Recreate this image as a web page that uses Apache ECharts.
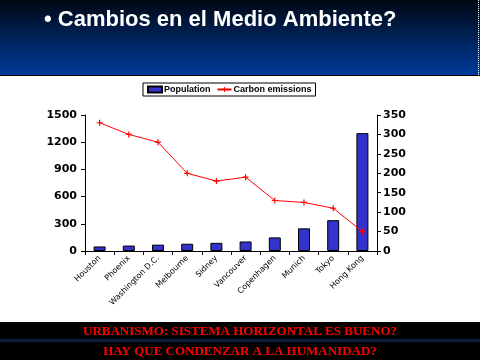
<!DOCTYPE html>
<html><head><meta charset="utf-8">
<script src="https://cdn.jsdelivr.net/npm/echarts@6/dist/echarts.min.js"></script>
<style>html,body{margin:0;padding:0;background:#fff}#c{width:480px;height:360px}</style>
</head><body><div id="c"></div>
<script>
const cities = ["Houston","Phoenix","Washington D.C.","Melbourne","Sidney","Vancouver","Copenhagen","Munich","Tokyo","Hong Kong"];
const population = [50,60,70,80,90,105,150,250,340,1300];
const carbon = [330,300,280,200,180,190,130,125,110,50];
const leftTicks = [0,300,600,900,1200,1500];
const rightTicks = [0,50,100,150,200,250,300,350];

const chart = echarts.init(document.getElementById('c'));
const fnt = '"DejaVu Sans", Verdana, sans-serif';
const ser = '"Liberation Serif", "Times New Roman", serif';
chart.setOption({
  animation:false,
  backgroundColor:'#fff',
  graphic:[
    {type:'rect',left:0,top:0,z:-1,shape:{width:480,height:76},style:{fill:new echarts.graphic.LinearGradient(0,0,0,1,[{offset:0,color:'#000814'},{offset:1,color:'#003c9c'}])}},
    {type:'rect',left:0,top:75,shape:{width:480,height:1},style:{fill:'#000'}},
    {type:'line',shape:{x1:478.5,y1:0,x2:478.5,y2:75},style:{stroke:'#fff',lineWidth:1,lineDash:[1,1]}},
    {type:'text',left:44,top:9,style:{text:'• Cambios en el Medio Ambiente?',fill:'#fff',font:'bold 22px "Liberation Sans", Arial, sans-serif',textShadowColor:'#000',textShadowOffsetX:2,textShadowOffsetY:2,textShadowBlur:0}},
    {type:'rect',left:0,top:322,shape:{width:480,height:38},style:{fill:'#000'}},
    {type:'rect',left:0,top:339,shape:{width:480,height:3},style:{fill:'#0b1c3c'}},
    {type:'text',left:'center',top:325,style:{text:'URBANISMO: SISTEMA HORIZONTAL ES BUENO?',fill:'#ff0000',font:'bold 13px '+ser}},
    {type:'text',left:'center',top:345,style:{text:'HAY QUE CONDENZAR A LA HUMANIDAD?',fill:'#ff0000',font:'bold 13px '+ser}}
  ],
  legend:{
    top:83,left:143,
    borderColor:'#000',borderWidth:1,padding:[2,4],itemGap:6,
    itemWidth:14,itemHeight:6,
    textStyle:{fontFamily:'"Liberation Sans", Arial, sans-serif',fontWeight:'bold',fontSize:9,color:'#000',padding:[0,0,0,-3]},
    data:[{name:'Population',icon:'rect'},{name:'Carbon emissions'}]
  },
  grid:{left:85,right:103,top:115,bottom:109},
  xAxis:{
    type:'category',data:cities,
    axisLine:{lineStyle:{color:'#000',width:1}},
    axisTick:{show:true,alignWithLabel:false,length:4,lineStyle:{color:'#000'}},
    axisLabel:{rotate:45,fontSize:8,fontFamily:fnt,color:'#000',margin:6,interval:0}
  },
  yAxis:[
    {type:'value',min:0,max:1500,interval:300,
     axisLine:{show:true,lineStyle:{color:'#000'}},
     axisTick:{show:true,length:4,lineStyle:{color:'#000'}},
     splitLine:{show:false},
     axisLabel:{fontSize:11,fontWeight:'bold',fontFamily:fnt,color:'#000',margin:8,
       formatter:v=>leftTicks.includes(v)?String(v):''}},
    {type:'value',min:0,max:350,interval:50,position:'right',
     axisLine:{show:true,lineStyle:{color:'#000'}},
     axisTick:{show:true,length:4,lineStyle:{color:'#000'}},
     splitLine:{show:false},
     axisLabel:{fontSize:11,fontWeight:'bold',fontFamily:fnt,color:'#000',margin:6,
       formatter:v=>rightTicks.includes(v)?String(v):''}}
  ],
  series:[
    {name:'Population',type:'bar',data:population,barWidth:12,
     itemStyle:{color:'#3333cc',borderColor:'#000',borderWidth:1}},
    {name:'Carbon emissions',type:'line',yAxisIndex:1,data:carbon,
     lineStyle:{color:'#ff0000',width:1},itemStyle:{color:'#ff0000'},
     symbol:'path://M2,0H3V2H5V3H3V5H2V3H0V2H2Z',symbolSize:6}
  ]
});
</script></body></html>
